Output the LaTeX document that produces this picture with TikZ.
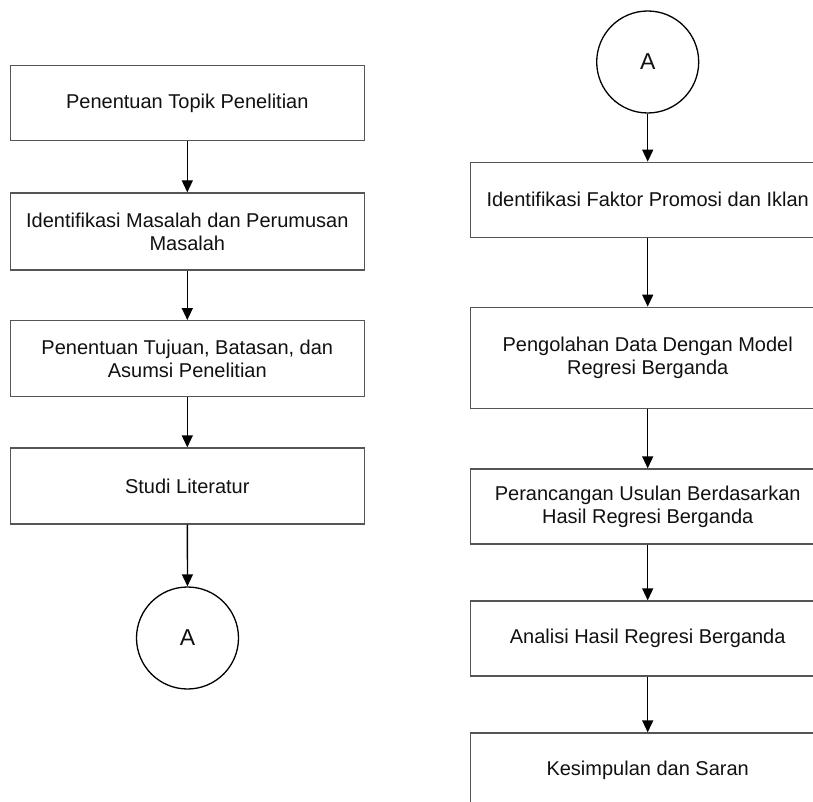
\documentclass[tikz,border=0pt]{standalone}
\usepackage{fontspec}
\setmainfont{Liberation Sans}
\usetikzlibrary{arrows.meta}
\definecolor{boxline}{HTML}{555555}
\definecolor{txt}{HTML}{111111}
\tikzset{
  stepbox/.style={draw=boxline, line width=1.3pt, rectangle, minimum width=354pt,
    inner sep=0pt, align=center, text=txt, font=\fontsize{20}{23}\selectfont},
  conn/.style={circle, draw=black, line width=1.3pt, minimum size=102pt, inner sep=0pt,
    text=txt, font=\fontsize{23}{26}\selectfont},
  flow/.style={draw=black, line width=1.3pt, -{Triangle[width=11pt,length=12pt]}}
}
\begin{document}
\begin{tikzpicture}[x=1pt,y=-1pt]
\useasboundingbox (0,0) rectangle (813,802);
\fill[white] (0,0) rectangle (813,802);
\clip (0,0) rectangle (813,802);
% left column
\node[stepbox, minimum height=75pt] (L1) at (187.3,103.2) {Penentuan Topik Penelitian};
\node[stepbox, minimum height=77pt] (L2) at (187.3,231.5) {Identifikasi Masalah dan Perumusan\\Masalah};
\node[stepbox, minimum height=76pt] (L3) at (187.3,358.7) {Penentuan Tujuan, Batasan, dan\\Asumsi Penelitian};
\node[stepbox, minimum height=76pt] (L4) at (187.3,486) {Studi Literatur};
\node[conn] (LA) at (187.5,638) {A};
% right column
\node[conn] (RA) at (647.7,62) {A};
\node[stepbox, minimum height=75pt] (R1) at (647.7,199.8) {Identifikasi Faktor Promosi dan Iklan};
\node[stepbox, minimum height=101pt] (R2) at (647.7,357.8) {Pengolahan Data Dengan Model\\Regresi Berganda};
\node[stepbox, minimum height=75pt] (R3) at (647.7,506.5) {Perancangan Usulan Berdasarkan\\Hasil Regresi Berganda};
\node[stepbox, minimum height=75pt] (R4) at (647.7,638.5) {Analisi Hasil Regresi Berganda};
\node[stepbox, minimum height=75pt] (R5) at (647.7,770.5) {Kesimpulan dan Saran};
% connectors
\draw[flow] (L1) -- (L2);
\draw[flow] (L2) -- (L3);
\draw[flow] (L3) -- (L4);
\draw[flow] (L4) -- (LA);
\draw[flow] (RA) -- (R1);
\draw[flow] (R1) -- (R2);
\draw[flow] (R2) -- (R3);
\draw[flow] (R3) -- (R4);
\draw[flow] (R4) -- (R5);
\end{tikzpicture}
\end{document}
